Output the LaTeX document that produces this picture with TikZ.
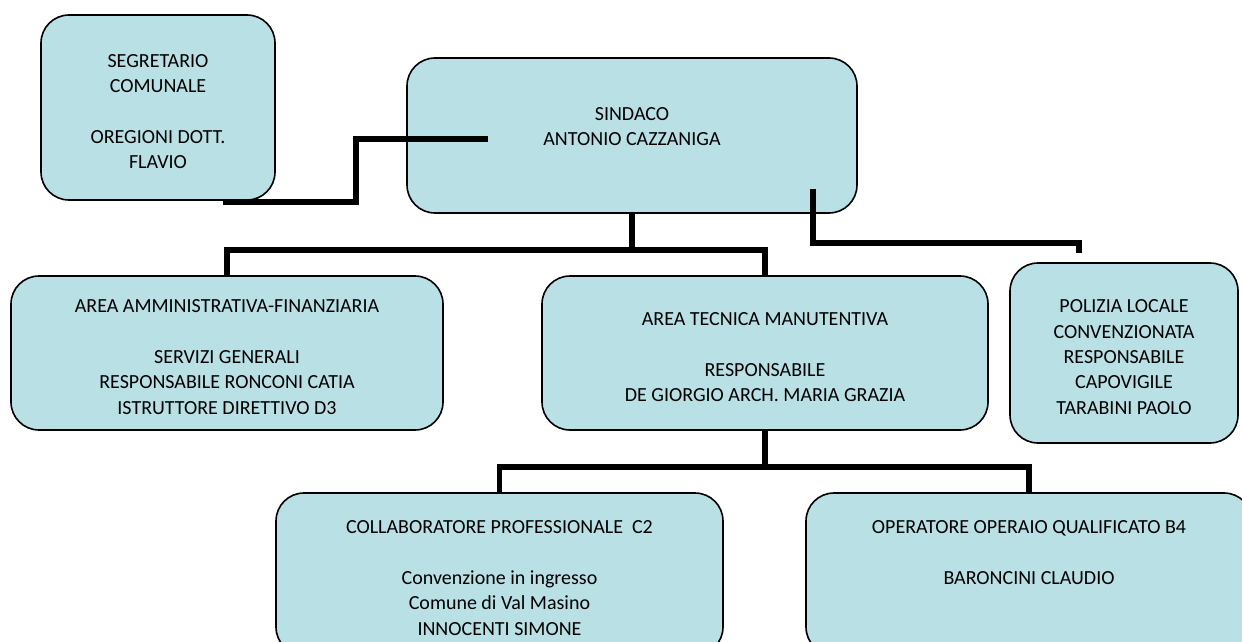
\documentclass[tikz,border=0pt]{standalone}
\usepackage{fontspec}
\setmainfont{Carlito}
\usetikzlibrary{fit}
\definecolor{officeblue}{RGB}{185,224,228}

\begin{document}
\begin{tikzpicture}[x = 0.5pt, y = -0.5pt,
    office/.style = {draw, line width = 0.8pt, fill = officeblue, rounded corners = 14pt, inner sep = 0pt,
      label = {[align = center, font = \fontsize{10}{12.7}\selectfont, yshift = -2pt]center:#1}},
    link/.style = {line width = 2.8pt}]
  \useasboundingbox (0, 0) rectangle (1242, 642);

  % boxes, in pixel coordinates of the page
  \node[office = {SEGRETARIO\\COMUNALE\\~\\OREGIONI DOTT.\\FLAVIO},
    fit = {(41, 15) (275, 200)}] (segretario) {};
  \node[office = {SINDACO\\ANTONIO CAZZANIGA\\~},
    fit = {(407, 58) (857, 213)}] (sindaco) {};
  \node[office = {AREA AMMINISTRATIVA-FINANZIARIA\\~\\SERVIZI GENERALI\\RESPONSABILE RONCONI CATIA\\ISTRUTTORE DIRETTIVO D3},
    fit = {(11, 276) (443, 430)}] (amministrativa) {};
  \node[office = {AREA TECNICA MANUTENTIVA\\~\\RESPONSABILE\\DE GIORGIO ARCH. MARIA GRAZIA},
    fit = {(542, 276) (988, 430)}] (tecnica) {};
  \node[office = {POLIZIA LOCALE\\CONVENZIONATA\\RESPONSABILE\\CAPOVIGILE\\TARABINI PAOLO},
    fit = {(1010, 263) (1238, 443)}] (polizia) {};
  \node[office = {COLLABORATORE PROFESSIONALE\ \ C2\\~\\Convenzione in ingresso\\Comune di Val Masino\\INNOCENTI SIMONE},
    fit = {(276, 493) (723, 655)}] (collaboratore) {};
  \node[office = {OPERATORE OPERAIO QUALIFICATO B4\\~\\BARONCINI CLAUDIO\\~\\~},
    fit = {(806, 493) (1252, 655)}] (operatore) {};

  % free ends of the connectors
  \coordinate (segretario-end) at (223, 202);
  \coordinate (sindaco-left) at (488, 139);
  \coordinate (sindaco-right) at (813, 189);
  \coordinate (polizia-end) at (1079, 253);

  % connectors
  \draw[link] (segretario-end) -| (356, 170) |- (sindaco-left);
  \draw[link] (sindaco-right) |- (1079, 243) -- (polizia-end);
  \draw[link] (sindaco.south) -- ++(0, 38);
  \draw[link] (amministrativa.north) -- ++(0, -25) -| (tecnica.north);
  \draw[link] (tecnica.south) -- ++(0, 38);
  \draw[link] (collaboratore.north) -- ++(0, -25) -| (operatore.north);
\end{tikzpicture}
\end{document}
